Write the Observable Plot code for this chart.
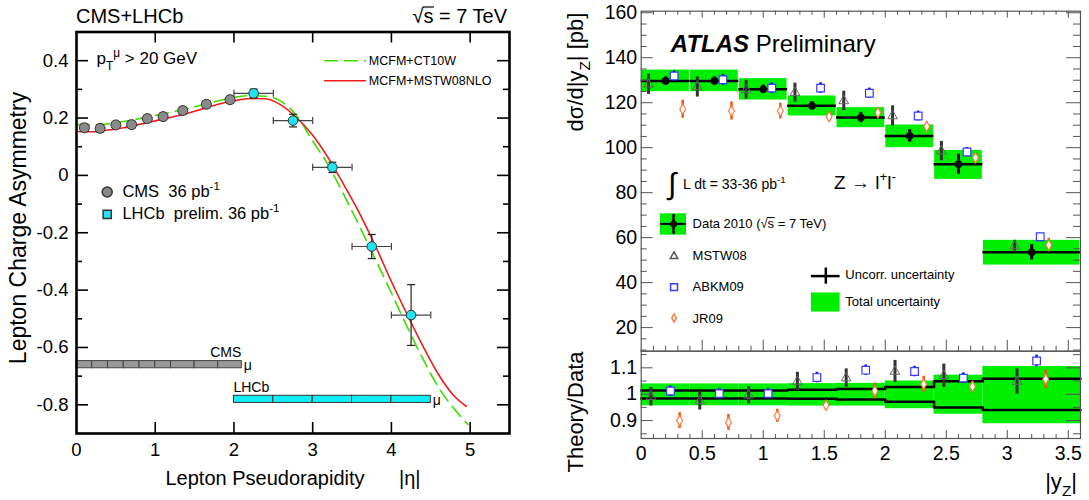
<!DOCTYPE html>
<html><head><meta charset="utf-8">
<script src="https://cdn.jsdelivr.net/npm/d3@7"></script>
<script src="https://cdn.jsdelivr.net/npm/@observablehq/plot@0.6"></script>
<style>
body{margin:0;background:#fff;}
#wrap{position:relative;width:1089px;height:500px;overflow:hidden;background:#fff;}
#wrap svg text{white-space:pre;}
</style></head><body><div id="wrap"></div>
<script>
// ================= LEFT PANEL DATA (CMS + LHCb charge asymmetry) =================
const cmsEdges = [0, 0.2, 0.4, 0.6, 0.8, 1.0, 1.2, 1.5, 1.8, 2.1];
const cmsEta   = [0.1, 0.3, 0.5, 0.7, 0.9, 1.1, 1.35, 1.65, 1.95];
const cmsAsym  = [0.166, 0.164, 0.176, 0.177, 0.198, 0.205, 0.226, 0.248, 0.264];
const cmsErr   = [0.013, 0.013, 0.012, 0.012, 0.012, 0.012, 0.012, 0.012, 0.012];
const lhcbEdges = [2.0, 2.5, 3.0, 3.5, 4.0, 4.5];
const lhcbEta   = [2.25, 2.75, 3.25, 3.75, 4.25];
const lhcbAsym  = [0.286, 0.191, 0.028, -0.248, -0.487];
const lhcbErr   = [0.015, 0.022, 0.018, 0.042, 0.106];
const ct10Eta = [0, 0.2, 0.4, 0.6, 0.8, 1.0, 1.2, 1.4, 1.6, 1.8, 2.0, 2.2, 2.4, 2.6, 2.8, 3.0, 3.2, 3.4, 3.6, 3.8, 4.0, 4.2, 4.4, 4.6, 4.8, 4.97];
const ct10W   = [0.177, 0.176, 0.18, 0.188, 0.198, 0.209, 0.22, 0.233, 0.246, 0.26, 0.272, 0.278, 0.276, 0.258, 0.207, 0.12, 0.035, -0.07, -0.18, -0.295, -0.41, -0.528, -0.64, -0.74, -0.815, -0.868];
const mstwEta  = [0, 0.2, 0.4, 0.6, 0.8, 1.0, 1.2, 1.4, 1.6, 1.8, 2.0, 2.2, 2.4, 2.6, 2.8, 3.0, 3.2, 3.4, 3.6, 3.8, 4.0, 4.2, 4.4, 4.6, 4.8, 4.95];
const mstw08nlo = [0.153, 0.152, 0.158, 0.166, 0.178, 0.19, 0.203, 0.216, 0.232, 0.248, 0.26, 0.268, 0.267, 0.245, 0.2, 0.14, 0.06, -0.035, -0.135, -0.248, -0.37, -0.485, -0.595, -0.695, -0.77, -0.805];
const asymTicks = [-0.8, -0.6, -0.4, -0.2, 0, 0.2, 0.4];
const asymMinor = [-0.7, -0.5, -0.3, -0.1, 0.1, 0.3];
const etaTicks  = [0, 1, 2, 3, 4, 5];

// ================= RIGHT PANEL DATA (ATLAS Z rapidity) =================
const yzEdges   = [0, 0.4, 0.8, 1.2, 1.6, 2.0, 2.4, 2.8, 3.6];
const yzCenters = [0.2, 0.6, 1.0, 1.4, 1.8, 2.2, 2.6, 3.2];
const dataXsec  = [129.7, 129.7, 126.0, 118.6, 113.4, 105.2, 92.6, 53.5];
const dataUncorr = [1.8, 1.8, 1.8, 1.9, 2.3, 2.8, 4.5, 3.4];
const dataTotLo = [124.9, 124.9, 121.2, 114.1, 108.9, 100.0, 85.9, 47.8];
const dataTotHi = [134.5, 134.5, 130.7, 123.0, 117.8, 110.1, 98.8, 58.8];
const mstw08    = [128.2, 127.0, 125.8, 124.5, 120.8, 114.1, 98.5, 56.2];
const mstw08Err = [4.5, 4.5, 4.2, 4.2, 4.3, 4.5, 4.3, 2.6];
const abkm09    = [131.9, 130.2, 126.5, 126.5, 124.2, 114.1, 98.1, 60.4];
const abkm09Err = [2.4, 2.4, 2.4, 2.4, 2.3, 2.2, 2.0, 1.5];
const jr09      = [117.1, 116.3, 116.3, 113.8, 115.6, 109.4, 95.5, 56.7];
const jr09Err   = [4.0, 4.0, 3.5, 2.0, 2.0, 2.0, 2.0, 3.0];
const ratioMstw    = [0.99, 0.975, 0.996, 1.048, 1.061, 1.086, 1.07, 1.048];
const ratioMstwErr = [0.035, 0.035, 0.033, 0.035, 0.035, 0.042, 0.044, 0.048];
const ratioAbkm    = [1.012, 1.002, 1.002, 1.063, 1.091, 1.086, 1.061, 1.126];
const ratioAbkmErr = [0.02, 0.02, 0.02, 0.02, 0.02, 0.02, 0.02, 0.022];
const ratioJr      = [0.9, 0.893, 0.918, 0.958, 1.012, 1.038, 1.029, 1.057];
const ratioJrErr   = [0.03, 0.03, 0.025, 0.018, 0.03, 0.03, 0.02, 0.035];
const ratioTotLo = [0.956, 0.956, 0.956, 0.955, 0.955, 0.945, 0.924, 0.888];
const ratioTotHi = [1.039, 1.039, 1.039, 1.040, 1.041, 1.050, 1.072, 1.105];
const ratioUncLo = [0.984, 0.984, 0.984, 0.983, 0.980, 0.971, 0.950, 0.940];
const ratioUncHi = [1.014, 1.014, 1.014, 1.017, 1.020, 1.027, 1.049, 1.059];
const xsecTicks  = [20, 40, 60, 80, 100, 120, 140, 160];
const ratioTicks = [0.9, 1, 1.1];
const ratioMinor = [0.85, 0.95, 1.05, 1.15];
const yzTicks    = [0, 0.5, 1, 1.5, 2, 2.5, 3, 3.5];

// ================= helpers =================
const FONT = '"Liberation Sans", Arial, Helvetica, sans-serif';
const wrap = document.getElementById("wrap");
function place(svg, x0, y0) {
  svg.style.position = "absolute"; svg.style.left = x0 + "px"; svg.style.top = y0 + "px";
  wrap.appendChild(svg);
}
const hCap = {draw(ctx, size) { const r = Math.sqrt(size / Math.PI); ctx.moveTo(-r, 0); ctx.lineTo(r, 0); }};
const vCap = {draw(ctx, size) { const r = Math.sqrt(size / Math.PI); ctx.moveTo(0, -r); ctx.lineTo(0, r); }};
// inward tick marks drawn as rules; lengths converted from pixels to data units
function tickKit(xd, yd, fw, fh, style) {
  const kx = (xd[1] - xd[0]) / fw, ky = (yd[1] - yd[0]) / fh;
  return {
    left: (vals, len) => Plot.ruleY(vals, {y: d => d, x1: xd[0], x2: xd[0] + len * kx, ...style}),
    right: (vals, len) => Plot.ruleY(vals, {y: d => d, x1: xd[1] - len * kx, x2: xd[1], ...style}),
    bottom: (vals, len) => Plot.ruleX(vals, {x: d => d, y1: yd[0], y2: yd[0] + len * ky, ...style}),
    top: (vals, len) => Plot.ruleX(vals, {x: d => d, y1: yd[1] - len * ky, y2: yd[1], ...style})
  };
}
function addText(svg, x, y, parts, o = {}) {
  const size = o.size || 16;
  const t = d3.select(svg).append("text")
    .attr("font-family", o.family || FONT).attr("font-size", size)
    .attr("fill", o.fill || "#000").attr("text-anchor", o.anchor || "start");
  if (o.rotate) t.attr("transform", `translate(${x},${y}) rotate(${o.rotate})`);
  else t.attr("x", x).attr("y", y);
  if (o.weight) t.attr("font-weight", o.weight);
  let cur = 0;
  for (const p of (typeof parts === "string" ? [parts] : parts)) {
    const s = typeof p === "string" ? {t: p} : p;
    const shift = s.sub ? size * 0.3 : s.sup ? -size * 0.42 : 0;
    const ts = t.append("tspan").text(s.t).attr("dy", shift - cur);
    if (s.sub || s.sup) ts.attr("font-size", size * 0.7);
    if (s.weight) ts.attr("font-weight", s.weight);
    if (s.style) ts.attr("font-style", s.style);
    cur = shift;
  }
  return t;
}
function overline(svg, textSel, rootIdx, sIdx, baseline, size) {
  const n = textSel.node();
  const a = n.getExtentOfChar(rootIdx), b = n.getExtentOfChar(sIdx);
  const yy = baseline - size * 0.80;
  d3.select(svg).append("line").attr("x1", a.x + a.width - 0.8).attr("x2", b.x + b.width + 0.5)
    .attr("y1", yy).attr("y2", yy).attr("stroke", "#000").attr("stroke-width", Math.max(1, size * 0.06));
}

// ================= LEFT PLOT =================
const cms = cmsEta.map((x, i) => ({x, y: cmsAsym[i], e: cmsErr[i]}));
const lhcb = lhcbEta.map((x, i) => ({x, y: lhcbAsym[i], e: lhcbErr[i], lo: lhcbEdges[i], hi: lhcbEdges[i + 1]}));
const cmsSeg = cmsEdges.slice(0, -1).map((a, i) => ({a, b: cmsEdges[i + 1]}));
const lhcbSeg = lhcbEdges.slice(0, -1).map((a, i) => ({a, b: lhcbEdges[i + 1]}));
const ct10 = ct10Eta.map((x, i) => ({x, y: ct10W[i]}));
const mstwC = mstwEta.map((x, i) => ({x, y: mstw08nlo[i]}));
const CMS_BAR = -0.66, LHCB_BAR = -0.781, BAR_H = 0.0125;
const GREENL = "#3fdc00", RED = "#ee1c1c", CYAN = "#1ee6f0";
const LX = [0, 5.5], LY = [-0.9, 0.5];
const lt = tickKit(LX, LY, 560 - 76 - 51, 500 - 31.5 - 67, {stroke: "#000", strokeWidth: 1.6});

const leftPlot = Plot.plot({
  width: 560, height: 500, marginLeft: 76, marginRight: 51, marginTop: 31.5, marginBottom: 67,
  x: {domain: LX, axis: null}, y: {domain: LY, axis: null},
  style: {fontFamily: FONT, background: "transparent", color: "#000"},
  marks: [
    Plot.rect(cmsSeg, {x1: "a", x2: "b", y1: CMS_BAR - BAR_H, y2: CMS_BAR + BAR_H, fill: "#999", stroke: "#444", strokeWidth: 1}),
    Plot.rect(lhcbSeg, {x1: "a", x2: "b", y1: LHCB_BAR - BAR_H, y2: LHCB_BAR + BAR_H, fill: "#11eef8", stroke: "#333", strokeWidth: 1}),
    Plot.line(ct10, {x: "x", y: "y", stroke: GREENL, strokeWidth: 1.6, strokeDasharray: "13,7", curve: "monotone-x"}),
    Plot.line(mstwC, {x: "x", y: "y", stroke: RED, strokeWidth: 1.6, curve: "monotone-x"}),
    Plot.ruleX(cms, {x: "x", y1: d => d.y - d.e, y2: d => d.y + d.e, stroke: "#333", strokeWidth: 1.2}),
    Plot.dot(cms, {x: "x", y: d => d.y - d.e, symbol: hCap, r: 4, stroke: "#333", strokeWidth: 1.2}),
    Plot.dot(cms, {x: "x", y: d => d.y + d.e, symbol: hCap, r: 4, stroke: "#333", strokeWidth: 1.2}),
    Plot.ruleY(lhcb, {y: "y", x1: "lo", x2: "hi", stroke: "#444", strokeWidth: 1.2}),
    Plot.dot(lhcb, {x: "lo", y: "y", symbol: vCap, r: 3.5, stroke: "#444", strokeWidth: 1.2}),
    Plot.dot(lhcb, {x: "hi", y: "y", symbol: vCap, r: 3.5, stroke: "#444", strokeWidth: 1.2}),
    Plot.ruleX(lhcb, {x: "x", y1: d => d.y - d.e, y2: d => d.y + d.e, stroke: "#222", strokeWidth: 1.2}),
    Plot.dot(lhcb, {x: "x", y: d => d.y - d.e, symbol: hCap, r: 4, stroke: "#222", strokeWidth: 1.2}),
    Plot.dot(lhcb, {x: "x", y: d => d.y + d.e, symbol: hCap, r: 4, stroke: "#222", strokeWidth: 1.2}),
    Plot.dot(cms, {x: "x", y: "y", r: 5, fill: "#8a8a8a", stroke: "#333", strokeWidth: 1}),
    Plot.dot(lhcb, {x: "x", y: "y", r: 4.8, fill: CYAN, stroke: "#333", strokeWidth: 1}),
    Plot.line([{x: 3.15, y: 0.4}, {x: 3.67, y: 0.4}], {x: "x", y: "y", stroke: GREENL, strokeWidth: 1.6, strokeDasharray: "13,7"}),
    Plot.line([{x: 3.15, y: 0.33}, {x: 3.67, y: 0.33}], {x: "x", y: "y", stroke: RED, strokeWidth: 1.6}),
    Plot.dot([{x: 0.39, y: -0.058}], {x: "x", y: "y", r: 5, fill: "#8a8a8a", stroke: "#333"}),
    Plot.dot([{x: 0.39, y: -0.136}], {x: "x", y: "y", symbol: "square", r: 4.6, fill: CYAN, stroke: "#333"}),
    Plot.axisY(asymTicks, {anchor: "left", tickSize: 0, tickPadding: 8, fontSize: 18.5, label: null, tickFormat: d => String(d)}),
    Plot.axisX(etaTicks, {anchor: "bottom", tickSize: 0, tickPadding: 9, fontSize: 18.5, label: null, tickFormat: d => String(d)}),
    lt.left(asymTicks, 12), lt.left(asymMinor, 6),
    lt.right(asymTicks, 12), lt.right(asymMinor, 6),
    lt.bottom(etaTicks.slice(1), 11), lt.top(etaTicks.slice(1), 11),
    Plot.frame({stroke: "#000", strokeWidth: 2.6})
  ]
});
place(leftPlot, 0, 0);
{
  const xs = leftPlot.scale("x"), ys = leftPlot.scale("y");
  const X = v => xs.apply(v), Y = v => ys.apply(v);
  addText(leftPlot, 76, 23, "CMS+LHCb", {size: 20});
  const rs = addText(leftPlot, 507, 23, "√s = 7 TeV", {size: 20, anchor: "end"});
  overline(leftPlot, rs, 0, 1, 23, 20);
  addText(leftPlot, X(0.26), Y(0.385), ["p", {t: "T", sub: true}, {t: "μ", sup: true}, " > 20 GeV"], {size: 17});
  addText(leftPlot, X(3.72), Y(0.384), "MCFM+CT10W", {size: 12.5});
  addText(leftPlot, X(3.72), Y(0.314), "MCFM+MSTW08NLO", {size: 12.5});
  addText(leftPlot, X(0.59), Y(-0.076), ["CMS  36 pb", {t: "-1", sup: true}], {size: 16.5});
  addText(leftPlot, X(0.59), Y(-0.155), ["LHCb  prelim. 36 pb", {t: "-1", sup: true}], {size: 16.5});
  addText(leftPlot, X(2.1), Y(CMS_BAR) - 7, "CMS", {size: 14, anchor: "end"});
  addText(leftPlot, X(2.13), Y(CMS_BAR) + 6, "μ", {size: 14});
  addText(leftPlot, X(2.0), Y(LHCB_BAR) - 7, "LHCb", {size: 14});
  addText(leftPlot, X(4.53), Y(LHCB_BAR) + 6, "μ", {size: 14});
  addText(leftPlot, 165.5, 485, "Lepton Pseudorapidity", {size: 20});
  addText(leftPlot, 399, 485, "|η|", {size: 20});
  addText(leftPlot, 26, 228, "Lepton Charge Asymmetry", {size: 23, anchor: "middle", rotate: -90});
}

// ================= RIGHT TOP PLOT =================
const OFF_M = -0.14, OFF_A = 0.07, OFF_J = 0.14;
const GREEN = "#00ee00", BLUE = "#3a3aff", ORANGE = "#ff7a45", ORANGED = "#ee5511";
const bins = yzCenters.map((c, i) => ({
  c, lo: yzEdges[i], hi: yzEdges[i + 1], d: dataXsec[i], u: dataUncorr[i], tl: dataTotLo[i], th: dataTotHi[i],
  m: mstw08[i], me: mstw08Err[i], a: abkm09[i], ae: abkm09Err[i], j: jr09[i], je: jr09Err[i],
  rm: ratioMstw[i], rme: ratioMstwErr[i], ra: ratioAbkm[i], rae: ratioAbkmErr[i], rj: ratioJr[i], rje: ratioJrErr[i],
  rtl: ratioTotLo[i], rth: ratioTotHi[i]
}));
const yMinor = d3.range(10, 161, 5).filter(v => v % 20 !== 0);
const xMinor = d3.range(1, 36).map(v => v / 10).filter(v => Math.round(v * 10) % 5 !== 0);
const RX = [0, 3.6], TY = [9.5, 160.7], RY = [0.832, 1.163];
const tt = tickKit(RX, TY, 529 - 80.7 - 9, 352 - 10.7 - 1.3, {stroke: "#555", strokeWidth: 1});

const topPlot = Plot.plot({
  width: 529, height: 352, marginLeft: 80.7, marginRight: 9, marginTop: 10.7, marginBottom: 1.3,
  x: {domain: RX, axis: null}, y: {domain: TY, axis: null},
  style: {fontFamily: FONT, background: "transparent", color: "#000"},
  marks: [
    Plot.rect(bins, {x1: "lo", x2: "hi", y1: "tl", y2: "th", fill: GREEN, insetLeft: 0.6, insetRight: 0.6}),
    Plot.ruleY(bins, {y: "d", x1: "lo", x2: "hi", stroke: "#000", strokeWidth: 2.5}),
    Plot.ruleX(bins, {x: "c", y1: d => d.d - d.u, y2: d => d.d + d.u, stroke: "#000", strokeWidth: 3}),
    Plot.dot(bins, {x: "c", y: "d", r: 3.8, fill: "#000"}),
    Plot.ruleX(bins, {x: d => d.c + OFF_M, y1: d => d.m - d.me, y2: d => d.m + d.me, stroke: "#333", strokeWidth: 3}),
    Plot.dot(bins, {x: d => d.c + OFF_M, y: "m", symbol: "triangle", r: 3.6, stroke: "#666", fill: "none", strokeWidth: 1}),
    Plot.ruleX(bins, {x: d => d.c + OFF_A, y1: d => d.a - d.ae, y2: d => d.a + d.ae, stroke: "#1010ee", strokeWidth: 2.5}),
    Plot.dot(bins, {x: d => d.c + OFF_A, y: "a", symbol: "square", r: 4.3, stroke: BLUE, fill: "#fff", strokeWidth: 1.2}),
    Plot.ruleX(bins, {x: d => d.c + OFF_J, y1: d => d.j - d.je, y2: d => d.j + d.je, stroke: ORANGED, strokeWidth: 2.5}),
    Plot.dot(bins, {x: d => d.c + OFF_J, y: "j", symbol: "diamond", r: 3.1, stroke: ORANGE, fill: "#fff", strokeWidth: 1.2}),
    Plot.rect([{x1: 0.158, x2: 0.371, y1: 61.1, y2: 70.6}], {x1: "x1", x2: "x2", y1: "y1", y2: "y2", fill: GREEN}),
    Plot.ruleY([66.1], {x1: 0.158, x2: 0.371, stroke: "#000", strokeWidth: 2}),
    Plot.ruleX([0.265], {y1: 61.4, y2: 70.3, stroke: "#000", strokeWidth: 2.5}),
    Plot.dot([{x: 0.265, y: 66.1}], {x: "x", y: "y", r: 3.5, fill: "#000"}),
    Plot.dot([{x: 0.269, y: 51.7}], {x: "x", y: "y", symbol: "triangle", r: 2.8, stroke: "#555", fill: "none"}),
    Plot.dot([{x: 0.269, y: 38.0}], {x: "x", y: "y", symbol: "square", r: 3.9, stroke: BLUE, fill: "none"}),
    Plot.dot([{x: 0.269, y: 24.3}], {x: "x", y: "y", symbol: "diamond", r: 2.4, stroke: ORANGE, fill: "none"}),
    Plot.ruleY([42.9], {x1: 1.395, x2: 1.63, stroke: "#000", strokeWidth: 2.5}),
    Plot.ruleX([1.513], {y1: 39.3, y2: 46.5, stroke: "#000", strokeWidth: 2.5}),
    Plot.rect([{x1: 1.395, x2: 1.63, y1: 26.9, y2: 35.4}], {x1: "x1", x2: "x2", y1: "y1", y2: "y2", fill: GREEN}),
    Plot.axisY(xsecTicks, {anchor: "left", tickSize: 0, tickPadding: 4, fontSize: 19.5, label: null, tickFormat: d => String(d)}),
    tt.left(xsecTicks, 12), tt.left(yMinor, 6),
    tt.right(xsecTicks, 14), tt.right(yMinor, 7),
    tt.bottom(yzTicks.slice(1), 11), tt.bottom(xMinor, 5),
    tt.top(yzTicks.slice(1), 7), tt.top(xMinor, 4),
    Plot.frame({stroke: "#555", strokeWidth: 1.2})
  ]
});
place(topPlot, 560, 0);
{
  const xs = topPlot.scale("x"), ys = topPlot.scale("y");
  const X = v => xs.apply(v), Y = v => ys.apply(v);
  addText(topPlot, X(0.247), Y(142.3), [{t: "ATLAS", weight: "bold", style: "italic"}, " Preliminary"], {size: 24});
  addText(topPlot, X(0.224), Y(79.0), "∫", {size: 30});
  addText(topPlot, X(0.347), Y(81.5), ["L dt = 33-36 pb", {t: "-1", sup: true}], {size: 14});
  addText(topPlot, X(1.585), Y(81.5), ["Z → l", {t: "+", sup: true}, "l", {t: "-", sup: true}], {size: 19});
  const dt = addText(topPlot, X(0.425), Y(64.1), "Data 2010 (√s = 7 TeV)", {size: 13});
  overline(topPlot, dt, 11, 12, Y(64.1), 13);
  addText(topPlot, X(0.425), Y(49.8), "MSTW08", {size: 13});
  addText(topPlot, X(0.425), Y(35.9), "ABKM09", {size: 13});
  addText(topPlot, X(0.425), Y(22.0), "JR09", {size: 13});
  addText(topPlot, X(1.677), Y(41.4), "Uncorr. uncertainty", {size: 13});
  addText(topPlot, X(1.677), Y(29.5), "Total uncertainty", {size: 13});
  addText(topPlot, 23, 72, ["dσ/d|y", {t: "Z", sub: true}, "| [pb]"], {size: 22, anchor: "middle", rotate: -90});
}

// ================= RIGHT RATIO PLOT =================
const OFF_MR = -0.12, OFF_AR = 0.04, OFF_JR = 0.115;
const stepPts = (vals) => yzEdges.map((e, i) => ({x: e, y: vals[Math.min(i, vals.length - 1)]}));
const rt = tickKit(RX, RY, 529 - 80.7 - 9, 150 - 0.7 - 62, {stroke: "#555", strokeWidth: 1});
const ratioPlot = Plot.plot({
  width: 529, height: 150, marginLeft: 80.7, marginRight: 9, marginTop: 0.7, marginBottom: 62,
  x: {domain: RX, axis: null}, y: {domain: RY, axis: null},
  style: {fontFamily: FONT, background: "transparent", color: "#000"},
  marks: [
    Plot.rect(bins, {x1: "lo", x2: "hi", y1: "rtl", y2: "rth", fill: GREEN}),
    Plot.line(stepPts(ratioUncHi), {x: "x", y: "y", curve: "step-after", stroke: "#000", strokeWidth: 2.5}),
    Plot.line(stepPts(ratioUncLo), {x: "x", y: "y", curve: "step-after", stroke: "#000", strokeWidth: 2.5}),
    Plot.ruleX(bins, {x: d => d.c + OFF_MR, y1: d => d.rm - d.rme, y2: d => d.rm + d.rme, stroke: "#333", strokeWidth: 3}),
    Plot.dot(bins, {x: d => d.c + OFF_MR, y: "rm", symbol: "triangle", r: 3.6, stroke: "#666", fill: "none", strokeWidth: 1}),
    Plot.ruleX(bins, {x: d => d.c + OFF_AR, y1: d => d.ra - d.rae, y2: d => d.ra + d.rae, stroke: "#1010ee", strokeWidth: 2.5}),
    Plot.dot(bins, {x: d => d.c + OFF_AR, y: "ra", symbol: "square", r: 4.3, stroke: BLUE, fill: "#fff", strokeWidth: 1.2}),
    Plot.ruleX(bins, {x: d => d.c + OFF_JR, y1: d => d.rj - d.rje, y2: d => d.rj + d.rje, stroke: ORANGED, strokeWidth: 2.5}),
    Plot.dot(bins, {x: d => d.c + OFF_JR, y: "rj", symbol: "diamond", r: 3.1, stroke: ORANGE, fill: "#fff", strokeWidth: 1.2}),
    Plot.axisY(ratioTicks, {anchor: "left", tickSize: 0, tickPadding: 4, fontSize: 19.5, label: null, tickFormat: d => String(d)}),
    Plot.axisX(yzTicks, {anchor: "bottom", tickSize: 0, tickPadding: 8, fontSize: 19.5, label: null, tickFormat: d => String(d)}),
    rt.left(ratioTicks, 12), rt.left(ratioMinor, 6),
    rt.right(ratioTicks, 14), rt.right(ratioMinor, 7),
    rt.bottom(yzTicks.slice(1), 8), rt.bottom(xMinor, 4),
    Plot.frame({stroke: "#555", strokeWidth: 1.2})
  ]
});
place(ratioPlot, 560, 350);
{
  addText(ratioPlot, 23, 62, "Theory/Data", {size: 22, anchor: "middle", rotate: -90});
  addText(ratioPlot, 517, 139, ["|y", {t: "Z", sub: true}, "|"], {size: 22, anchor: "end"});
}
</script></body></html>
